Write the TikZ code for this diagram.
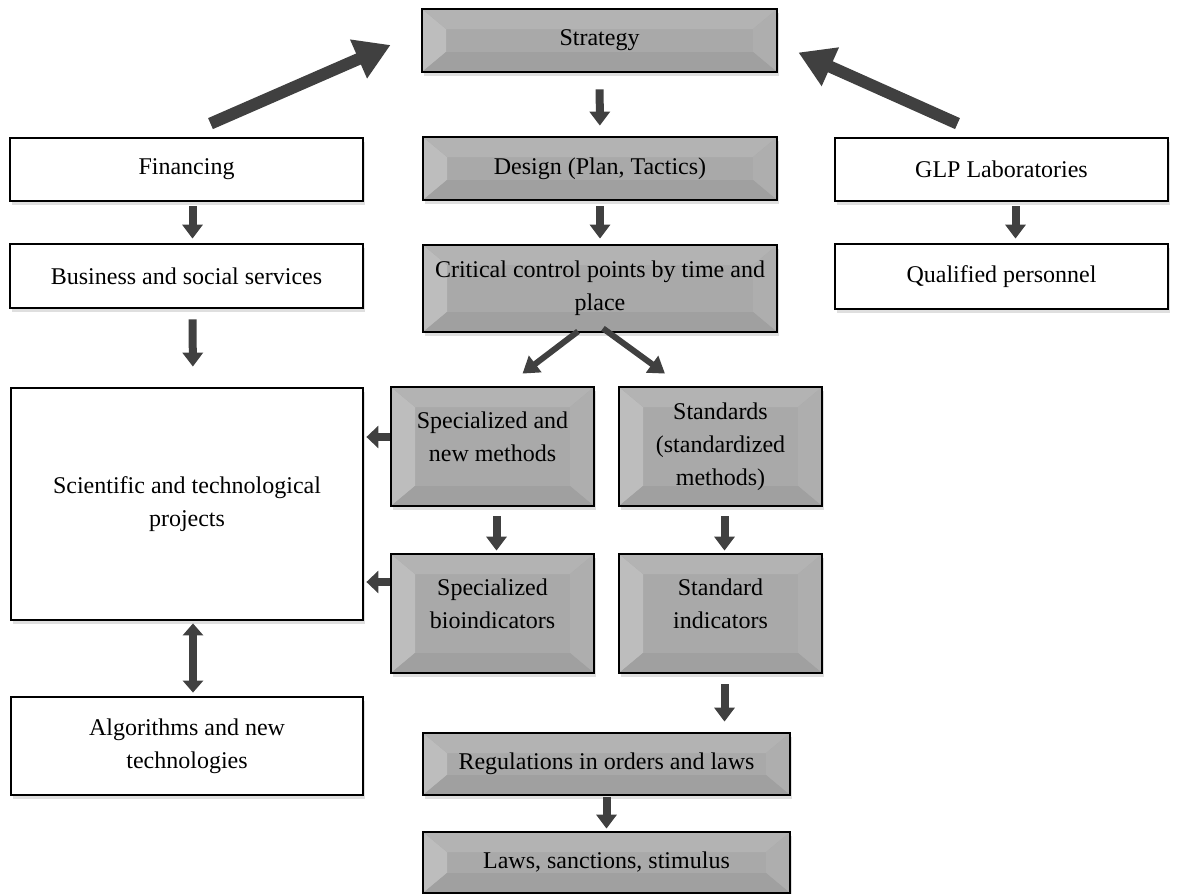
\documentclass[tikz,border=0pt]{standalone}
\usepackage{fontspec}
\setmainfont{Liberation Serif}
\usetikzlibrary{arrows.meta,shadows}

\definecolor{facegray}{HTML}{A9A9A9}
\definecolor{leftbevel}{HTML}{BDBDBD}
\definecolor{topbevel}{HTML}{B3B3B3}
\definecolor{rightbevel}{HTML}{AEAEAE}
\definecolor{lowbevel}{HTML}{A0A0A0}
\definecolor{arrowgray}{HTML}{404040}

\tikzset{
  box/.style={draw=black, line width=1.4pt, fill=white, align=center, inner sep=2pt,
    font=\fontsize{12}{16.5}\selectfont,
    drop shadow={shadow xshift=1pt, shadow yshift=-2pt, opacity=0.25}},
  gbox/.style={box, fill=facegray,
    path picture={
      \coordinate (pnw) at (path picture bounding box.north west);
      \coordinate (pne) at (path picture bounding box.north east);
      \coordinate (psw) at (path picture bounding box.south west);
      \coordinate (pse) at (path picture bounding box.south east);
      \fill[leftbevel] (pnw) -- (psw) -- ([shift={(12pt,10pt)}]psw) -- ([shift={(12pt,-10pt)}]pnw) -- cycle;
      \fill[topbevel] (pnw) -- (pne) -- ([shift={(-12pt,-10pt)}]pne) -- ([shift={(12pt,-10pt)}]pnw) -- cycle;
      \fill[rightbevel] (pne) -- (pse) -- ([shift={(-12pt,10pt)}]pse) -- ([shift={(-12pt,-10pt)}]pne) -- cycle;
      \fill[lowbevel] (psw) -- (pse) -- ([shift={(-12pt,10pt)}]pse) -- ([shift={(12pt,10pt)}]psw) -- cycle;
    }},
  uptext/.style={text depth=10pt},
  bigarrow/.style={draw=arrowgray, line width=6pt, -{Triangle[length=17.5pt,width=20pt]}},
  smallarrow/.style={draw=arrowgray, line width=4pt, -{Triangle[length=7pt,width=10pt]}},
  slantarrow/.style={draw=arrowgray, line width=3pt, -{Triangle[length=8pt,width=10pt]}},
  twoarrow/.style={draw=arrowgray, line width=4pt, {Triangle[length=6pt,width=10pt]}-{Triangle[length=6pt,width=10pt]}}
}

\begin{document}
\begin{tikzpicture}[x=0.5pt,y=-0.5pt]
		\useasboundingbox (0,0) rectangle (1180,894);

		%centre column
		\node[gbox, minimum width=177.5pt, minimum height=31.5pt] (strat) at (599.5,40.5) {Strategy};
		\node[gbox, minimum width=177pt, minimum height=31.5pt] (des) at (600,168.5) {Design (Plan, Tactics)};
		\node[gbox, minimum width=177pt, minimum height=43.5pt] (ccp) at (600,288.5) {Critical control points by time and\\place};
		\node[gbox, uptext, minimum width=101.5pt, minimum height=59.5pt] (spm) at (492.5,446.5) {Specialized and\\new methods};
		\node[gbox, minimum width=101.5pt, minimum height=59.5pt] (std) at (720.5,446.5) {Standards\\(standardized\\methods)};
		\node[gbox, uptext, minimum width=101.5pt, minimum height=59.5pt] (spb) at (492.5,613.5) {Specialized\\bioindicators};
		\node[gbox, uptext, minimum width=101.5pt, minimum height=59.5pt] (sti) at (720.5,613.5) {Standard\\indicators};
		\node[gbox, minimum width=183.5pt, minimum height=31pt] (reg) at (606.5,764) {Regulations in orders and laws};
		\node[gbox, minimum width=183.5pt, minimum height=30.5pt] (law) at (606.5,862.5) {Laws, sanctions, stimulus};

		%left column
		\node[box, minimum width=176.5pt, minimum height=31.5pt] (fin) at (186.5,169.5) {Financing};
		\node[box, minimum width=176.5pt, minimum height=32pt] (bus) at (186.5,276) {Business and social services};
		\node[box, minimum width=176pt, minimum height=116pt] (sci) at (187,504) {Scientific and technological\\projects};
		\node[box, minimum width=176pt, minimum height=49pt] (alg) at (187,746) {Algorithms and new\\technologies};

		%right column
		\node[box, minimum width=166.5pt, minimum height=31.5pt] (glp) at (1001.5,169.5) {GLP Laboratories};
		\node[box, minimum width=166.5pt, minimum height=32.5pt] (qp) at (1001.5,276.5) {Qualified personnel};

		%big arrows
		\draw[bigarrow] ([xshift=12pt,yshift=6.5pt]fin.north) -- ([xshift=-15pt,yshift=-2.25pt]strat.west);
		\draw[bigarrow] ([xshift=-22pt,yshift=6.5pt]glp.north) -- ([xshift=10pt,yshift=-6pt]strat.east);

		%vertical arrows
		\draw[smallarrow, shorten <=8pt, shorten >=5pt] (strat) -- (des);
		\draw[smallarrow, shorten <=2.5pt, shorten >=2.5pt] (des) -- (ccp);
		\draw[smallarrow, shorten <=2pt, shorten >=2pt] ([xshift=3pt]fin.south) -- ([xshift=3pt]bus.north);
		\draw[smallarrow, shorten <=2pt, shorten >=2pt] ([xshift=7pt]glp.south) -- ([xshift=7pt]qp.north);
		\draw[smallarrow, shorten <=5pt, shorten >=10pt] ([xshift=3pt]bus.south) -- ([xshift=3pt]sci.north);
		\draw[twoarrow, shorten <=1pt, shorten >=1.5pt] ([xshift=3pt]sci.south) -- ([xshift=3pt]alg.north);
		\draw[smallarrow, shorten <=4.5pt, shorten >=1pt] ([xshift=2pt]spm.south) -- ([xshift=2pt]spb.north);
		\draw[smallarrow, shorten <=4.5pt, shorten >=1pt] ([xshift=2pt]std.south) -- ([xshift=2pt]sti.north);
		\draw[smallarrow, shorten <=5pt, shorten >=5pt] ([xshift=2pt]sti.south) -- ([xshift=2pt]sti.south |- reg.north);
		\draw[smallarrow, shorten <=0.5pt, shorten >=1pt] (reg) -- (law);

		%slanted arrows
		\draw[slantarrow] ([xshift=-11pt,yshift=1pt]ccp.south) -- ([xshift=15pt,yshift=6pt]spm.north);
		\draw[slantarrow] ([xshift=1.5pt,yshift=2.5pt]ccp.south) -- ([xshift=-27.75pt,yshift=6pt]std.north);

		%into projects
		\draw[smallarrow, -{Triangle[length=6pt,width=11pt]}, shorten >=1pt] ([yshift=4.75pt]spm.west) -- ([yshift=4.75pt]spm.west -| sci.east);
		\draw[smallarrow, -{Triangle[length=6pt,width=11pt]}, shorten >=1pt] ([yshift=15.75pt]spb.west) -- ([yshift=15.75pt]spb.west -| sci.east);

	\end{tikzpicture}
\end{document}
